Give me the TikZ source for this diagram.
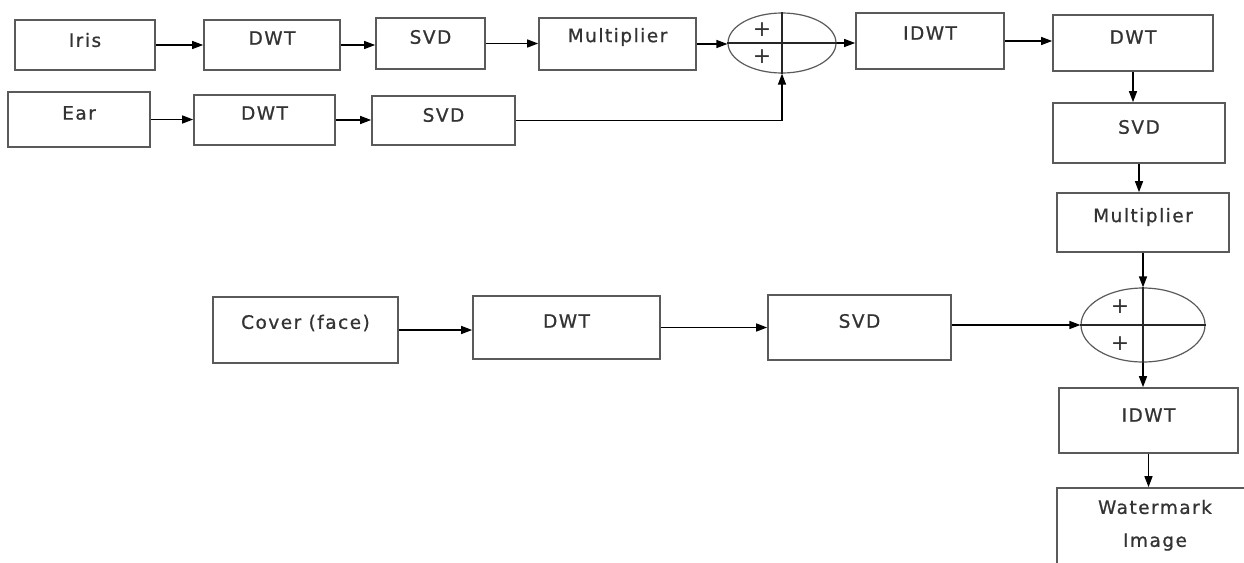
\documentclass[tikz,border=0pt]{standalone}
\usepackage{fontspec}
\usetikzlibrary{arrows.meta,shapes.geometric}
\newfontfamily\lblfont{DejaVu Sans}[LetterSpace=8,FakeBold=0.8]
\newfontfamily\plusfont{DejaVu Sans}
\definecolor{boxgray}{HTML}{5A5A5A}
\definecolor{textgray}{HTML}{333333}
\newcommand\mkbox[5]{\node[box, minimum width={(#4)-(#2)}, minimum height={(#5)-(#3)}] (#1) at ({((#2)+(#4))/2},{((#3)+(#5))/2}) {};}
\begin{document}
\begin{tikzpicture}[x=1pt,y=-1pt,
  box/.style={draw=boxgray, line width=1.7pt, rectangle, inner sep=0pt, fill=white},
  lbl/.style={font=\lblfont\fontsize{18.5}{22}\selectfont, text=textgray, inner sep=0pt},
  arr/.style={draw=black, line width=1.4pt, -{Triangle[length=11pt,width=8pt]}},
  sumnode/.style={draw=boxgray, line width=1.2pt, ellipse, inner sep=0pt},
  plus/.style={font=\plusfont\fontsize{22}{22}\selectfont, text=textgray, inner sep=0pt}]
\useasboundingbox (0,0) rectangle (1244,562);
\clip (0,0) rectangle (1244,562);
\fill[white] (0,0) rectangle (1244,562);

% top row
\mkbox{iris}{15}{20}{155}{70}
\mkbox{dwta}{204}{20}{340}{70}
\mkbox{svda}{376}{18}{485}{69}
\mkbox{multa}{539}{18}{696}{70}
\node[sumnode, minimum width=108pt, minimum height=60pt] (suma) at (782,43) {};
\mkbox{idwta}{856}{13}{1004}{69}
\mkbox{dwtc}{1053}{15}{1213}{71}
% ear row
\mkbox{ear}{8}{92}{150}{147}
\mkbox{dwtb}{194}{95}{335}{145}
\mkbox{svdb}{372}{96}{515}{145}
% right column
\mkbox{svdc}{1053}{103}{1225}{163}
\mkbox{multc}{1057}{193}{1229}{252}
\node[sumnode, minimum width=124pt, minimum height=74pt] (sumb) at (1143,325) {};
\mkbox{idwtb}{1059}{388}{1238}{453}
\mkbox{wm}{1057}{488}{1252}{580}
% cover row
\mkbox{cover}{213}{297}{398}{363}
\mkbox{dwtd}{473}{296}{660}{359}
\mkbox{svdd}{768}{295}{951}{360}

% labels
\node[lbl] (iris-t) at (iris.north |- 0,40) {Iris};
\node[lbl] (dwta-t) at (dwta.north |- 0,38) {DWT};
\node[lbl] (svda-t) at (svda.north |- 0,37) {SVD};
\node[lbl] (multa-t) at (multa.north |- 0,37) {Multiplier};
\node[lbl] (idwta-t) at (idwta.north |- 0,33) {IDWT};
\node[lbl] (dwtc-t) at (dwtc.north |- 0,37) {DWT};
\node[lbl] (ear-t) at (ear.north |- 0,113) {Ear};
\node[lbl] (dwtb-t) at (dwtb.north |- 0,113) {DWT};
\node[lbl] (svdb-t) at (svdb.north |- 0,115) {SVD};
\node[lbl] (svdc-t) at (svdc.north |- 0,127) {SVD};
\node[lbl] (multc-t) at (multc.north |- 0,217) {Multiplier};
\node[lbl] (cover-t) at (cover.north |- 0,323) {Cover (face)};
\node[lbl] (dwtd-t) at (dwtd.north |- 0,321) {DWT};
\node[lbl] (svdd-t) at (svdd.north |- 0,321) {SVD};
\node[lbl] (idwtb-t) at (idwtb.north |- 0,415) {IDWT};
\node[lbl] (wm-t1) at (1155,507) {Watermark};
\node[lbl] (wm-t2) at (1155,542) {Image};

% summing junction internals
\draw[line width=1.2pt, draw=black!85] (suma.west) -- (suma.east);
\draw[line width=1.2pt, draw=black!85] (suma.north) -- (suma.south);
\node[plus] (pa1) at (762,30) {+};
\node[plus] (pa2) at (762,57) {+};
\draw[line width=1.2pt, draw=black!85] (sumb.west) -- (sumb.east);
\draw[line width=1.2pt, draw=black!85] (sumb.north) -- (sumb.south);
\node[plus] (pb1) at (1120,307) {+};
\node[plus] (pb2) at (1120,344) {+};

% connectors
\draw[arr] (iris.east) -- (iris.east -| dwta.west);
\draw[arr] (dwta.east) -- (dwta.east -| svda.west);
\draw[arr] (svda.east) -- (svda.east -| multa.west);
\draw[arr] (multa.east) -- (multa.east -| suma.west);
\draw[arr] (suma.east) -- (suma.east -| idwta.west);
\draw[arr] (idwta.east) -- (idwta.east -| dwtc.west);
\draw[arr] (ear.east) -- (ear.east -| dwtb.west);
\draw[arr] (dwtb.east) -- (dwtb.east -| svdb.west);
\draw[arr] (svdb.east) -- (svdb.east -| suma.south) -- (suma.south);
\draw[arr] (dwtc.south) -- (dwtc.south |- svdc.north);
\draw[arr] (svdc.south) -- (svdc.south |- multc.north);
\draw[arr] (multc.south) -- (multc.south |- sumb.north);
\draw[arr] (sumb.south) -- (sumb.south |- idwtb.north);
\draw[arr] (idwtb.south) -- (idwtb.south |- wm.north);
\draw[arr] (cover.east) -- (cover.east -| dwtd.west);
\draw[arr] (dwtd.east) -- (dwtd.east -| svdd.west);
\draw[arr] (svdd.east |- sumb.west) -- (sumb.west);
\end{tikzpicture}
\end{document}
